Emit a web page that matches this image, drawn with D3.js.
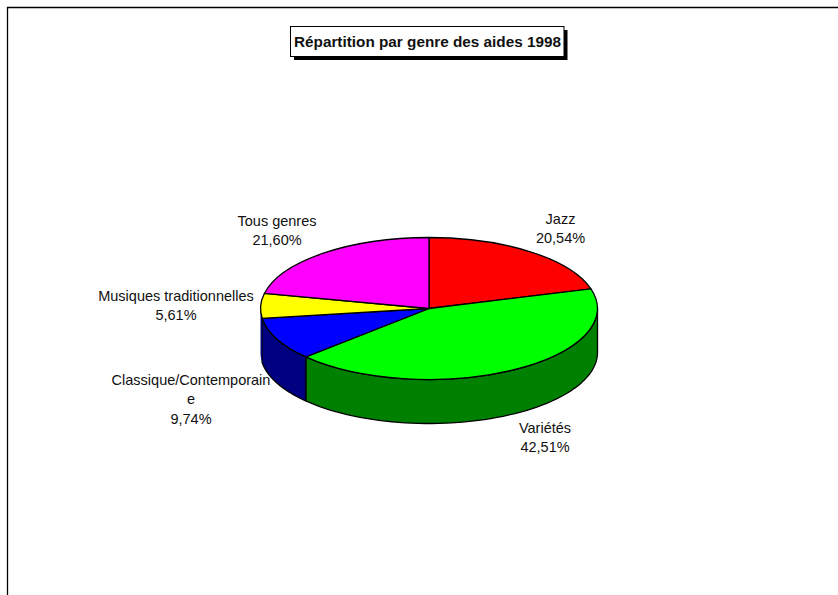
<!DOCTYPE html>
<html><head><meta charset="utf-8">
<script src="https://cdn.jsdelivr.net/npm/d3@7"></script>
<style>html,body{margin:0;padding:0;background:#fff}svg{display:block}text{font-family:"Liberation Sans",Arial,sans-serif;fill:#111}</style>
</head><body><div id="c"></div>
<script>
const categories=["Jazz","Variétés","Classique/Contemporain","Musiques traditionnelles","Tous genres"];
const values=[20.54,42.51,9.74,5.61,21.60];
const topColors=["#ff0000","#00ff00","#0000ff","#ffff00","#ff00ff"];
const sideColors=["#800000","#008000","#000080","#000080","#800080"];
const labelLines=[["Jazz","20,54%"],["Variétés","42,51%"],["Classique/Contemporain","e","9,74%"],["Musiques traditionnelles","5,61%"],["Tous genres","21,60%"]];
const labelAnchors=[[560.5,223.5],[545,433],[191,385],[176,301],[277,226]];

const W=838,H=595,cx=429,cy=308.5,rx=168.5,ry=71,depth=44;
const svg=d3.select("#c").append("svg").attr("width",W).attr("height",H);
svg.append("path").attr("d",`M7.5,${H}V7.5H${W}`).attr("fill","none").attr("stroke","#000").attr("stroke-width",1.3);

const arcs=d3.pie().value(d=>d).sort(null)(values);
const px=d3.scaleLinear().domain([-1,1]).range([cx-rx,cx+rx]);
const py=d3.scaleLinear().domain([-1,1]).range([cy-ry,cy+ry]);
const pt=(a,dz=0)=>[px(Math.sin(a)),py(-Math.cos(a))+dz];

const line=d3.line();
arcs.forEach((d,i)=>{
  const a0=Math.max(d.startAngle,Math.PI/2),a1=Math.min(d.endAngle,Math.PI*1.5);
  if(a1<=a0) return;
  const n=60,top=[],bot=[];
  for(let k=0;k<=n;k++){const a=a0+(a1-a0)*k/n;top.push(pt(a));bot.push(pt(a,depth));}
  svg.append("path").attr("d",line(top.concat(bot.reverse()))+"Z")
    .attr("fill",sideColors[i]).attr("stroke",i===3?"none":"#000").attr("stroke-width",1.3).attr("stroke-linejoin","round");
});
const arc=d3.arc().innerRadius(0).outerRadius(1);
const g=svg.append("g").attr("transform",`translate(${cx},${cy}) scale(${rx},${ry})`);
g.selectAll("path").data(arcs).join("path").attr("d",arc)
  .attr("fill",(d,i)=>topColors[i]).attr("stroke","#000").attr("stroke-width",1.3)
  .attr("vector-effect","non-scaling-stroke").attr("stroke-linejoin","round");

labelLines.forEach((ls,i)=>{
  const t=svg.append("text").attr("text-anchor","middle").attr("font-size",14.5);
  ls.forEach((s,j)=>t.append("tspan").attr("x",labelAnchors[i][0]).attr("y",labelAnchors[i][1]+j*19.3).text(s));
});

svg.append("rect").attr("x",294).attr("y",30).attr("width",273.5).attr("height",30).attr("fill","#000");
svg.append("rect").attr("x",290.5).attr("y",26.5).attr("width",273.5).attr("height",30).attr("fill","#fff").attr("stroke","#000");
svg.append("text").attr("x",427.5).attr("y",47).attr("text-anchor","middle").attr("font-size",15.3).attr("font-weight","bold").attr("fill","#000").text("Répartition par genre des aides 1998");
</script></body></html>
